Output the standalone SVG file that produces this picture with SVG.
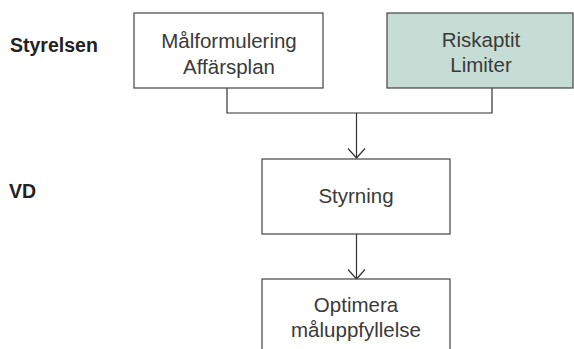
<svg xmlns="http://www.w3.org/2000/svg" width="574" height="349" viewBox="0 0 574 349">
<defs>
<style>
.box{fill:#ffffff;stroke:#444444;stroke-width:1.2}
.green{fill:#c6ddd6}
.t{font-family:"Liberation Sans",Arial,sans-serif;font-size:20.5px;fill:#3a3a3a;text-anchor:middle}
.lbl{font-family:"Liberation Sans",Arial,sans-serif;font-size:19.5px;font-weight:bold;fill:#222222}
.c{fill:none;stroke:#333333;stroke-width:1.2}
</style>
<marker id="arr" viewBox="0 0 20 20" refX="10" refY="10" markerWidth="20" markerHeight="20" markerUnits="userSpaceOnUse" orient="auto">
<path d="M0.5,1.5 L10,10 L0.5,18.5" fill="none" stroke="#333333" stroke-width="1.2"/>
</marker>
</defs>
<rect width="574" height="349" fill="#ffffff"/>
<text class="lbl" x="10" y="52">Styrelsen</text>
<text class="lbl" x="9" y="198">VD</text>
<g id="connectors">
<path class="c" d="M227,88 V113 H492 V88"/>
<path class="c" d="M356.5,113 V158" marker-end="url(#arr)"/>
<path class="c" d="M356.5,234 V279" marker-end="url(#arr)"/>
</g>
<g id="node-malformulering">
<rect class="box" x="134" y="13" width="189" height="75"/>
<text class="t" x="229" y="47.5">Målformulering</text>
<text class="t" x="229" y="74">Affärsplan</text>
</g>
<g id="node-riskaptit">
<rect class="box green" x="387" y="13" width="186" height="75"/>
<text class="t" x="481" y="47">Riskaptit</text>
<text class="t" x="481" y="72">Limiter</text>
</g>
<g id="node-styrning">
<rect class="box" x="262" y="159" width="188" height="75"/>
<text class="t" x="356" y="203">Styrning</text>
</g>
<g id="node-optimera">
<rect class="box" x="262" y="279" width="188" height="85"/>
<text class="t" x="356" y="312">Optimera</text>
<text class="t" x="356" y="337">måluppfyllelse</text>
</g>
</svg>
